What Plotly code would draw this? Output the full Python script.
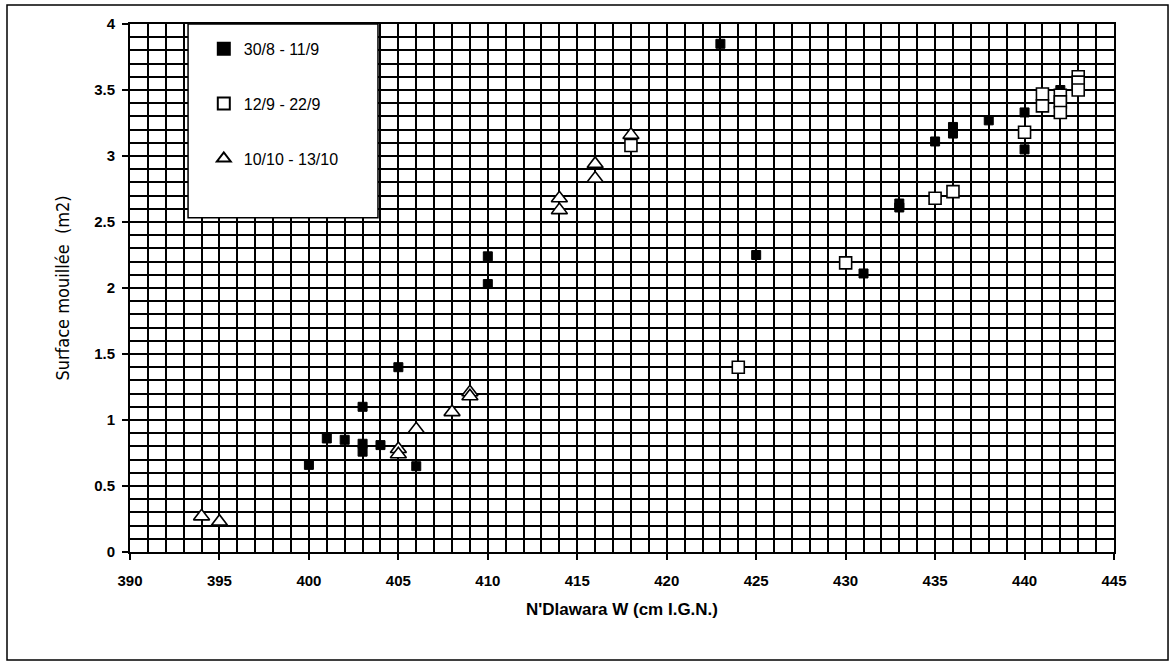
import plotly.graph_objects as go

# 30/8 - 11/9 (filled squares)
s1_x = [400, 401, 402, 403, 403, 403, 404, 405, 406, 410, 410, 423, 425, 431, 433, 433,
        435, 436, 436, 438, 440, 440, 442]
s1_y = [0.66, 0.86, 0.85, 1.10, 0.82, 0.76, 0.81, 1.40, 0.65, 2.24, 2.03, 3.85, 2.25, 2.11, 2.64, 2.61,
        3.11, 3.22, 3.17, 3.27, 3.33, 3.05, 3.50]
# 12/9 - 22/9 (open squares)
s2_x = [418, 424, 430, 435, 436, 440, 441, 441, 442, 442, 442, 443, 443, 443]
s2_y = [3.08, 1.40, 2.19, 2.68, 2.73, 3.18, 3.47, 3.38, 3.46, 3.41, 3.33, 3.60, 3.56, 3.50]
# 10/10 - 13/10 (open triangles)
s3_x = [394, 395, 405, 405, 406, 408, 409, 409, 414, 414, 416, 416, 418]
s3_y = [0.27, 0.23, 0.78, 0.74, 0.93, 1.06, 1.21, 1.18, 2.68, 2.59, 2.94, 2.83, 3.16]

labels = ["30/8 - 11/9", "12/9 - 22/9", "10/10 - 13/10"]

x_ticks = [390, 395, 400, 405, 410, 415, 420, 425, 430, 435, 440, 445]
x_ticklabels = ["390", "395", "400", "405", "410", "415", "420", "425", "430", "435", "440", "445"]
y_ticks = [0, 0.5, 1, 1.5, 2, 2.5, 3, 3.5, 4]
y_ticklabels = ["0", "0.5", "1", "1.5", "2", "2.5", "3", "3.5", "4"]

fig = go.Figure()
fig.add_trace(go.Scatter(x=s1_x, y=s1_y, mode="markers", name=labels[0], legendgroup="a",
                         marker=dict(symbol="square", size=9, color="black",
                                     line=dict(color="black", width=1))))
fig.add_trace(go.Scatter(x=s2_x, y=s2_y, mode="markers", name=labels[1], legendgroup="b",
                         marker=dict(symbol="square", size=12, color="white",
                                     line=dict(color="black", width=1.6))))
fig.add_trace(go.Scatter(x=s3_x, y=s3_y, mode="markers", name=labels[2], legendgroup="c",
                         marker=dict(symbol="triangle-up", size=14, color="white",
                                     line=dict(color="black", width=1.6))))

tickf = dict(family="Liberation Sans, Arial, sans-serif", size=15, color="black")

fig.update_layout(
    width=1175, height=666,
    margin=dict(l=130, r=61, t=24, b=114),
    paper_bgcolor="white", plot_bgcolor="white",
    showlegend=True,
    legend=dict(x=0.075, y=0.985, xanchor="left", yanchor="top",
                bgcolor="rgba(0,0,0,0)", borderwidth=0,
                font=dict(family="Liberation Sans, Arial, sans-serif", size=16, color="black"),
                tracegroupgap=31, itemsizing="constant"),
    xaxis=dict(range=[390, 445], tickmode="array", tickvals=x_ticks,
               ticktext=["<b>%s</b>" % t for t in x_ticklabels],
               showgrid=True, gridcolor="black", gridwidth=2,
               minor=dict(dtick=1, tick0=390, showgrid=True, gridcolor="black", gridwidth=1.6, ticks=""),
               showline=True, linecolor="black", linewidth=2, mirror=True,
               ticks="outside", ticklen=6, tickwidth=1.5, tickcolor="black",
               ticklabelstandoff=8,
               tickfont=tickf,
               title=dict(text="<b>N'Dlawara W (cm I.G.N.)</b>", standoff=15,
                          font=dict(family="Liberation Sans, Arial, sans-serif", size=17, color="black")),
               zeroline=False),
    yaxis=dict(range=[0, 4], tickmode="array", tickvals=y_ticks,
               ticktext=["<b>%s</b>" % t for t in y_ticklabels],
               showgrid=True, gridcolor="black", gridwidth=2,
               minor=dict(dtick=0.1, tick0=0, showgrid=True, gridcolor="black", gridwidth=1.6, ticks=""),
               showline=True, linecolor="black", linewidth=2, mirror=True,
               ticks="outside", ticklen=6, tickwidth=1.5, tickcolor="black",
               ticklabelstandoff=4,
               tickfont=tickf,
               title=dict(text="Surface mouillée  (m2)", standoff=20,
                          font=dict(family="DejaVu Sans Condensed, Liberation Sans Narrow, sans-serif",
                                    size=18, color="black")),
               zeroline=False),
    shapes=[
        dict(type="rect", xref="paper", yref="paper", x0=0.059, x1=0.252, y0=0.633, y1=1.0,
             fillcolor="white", line=dict(color="black", width=1.5), layer="above"),
        dict(type="rect", xref="paper", yref="paper", x0=-0.125, x1=1.0549, y0=-0.2045, y1=1.036,
             fillcolor="rgba(0,0,0,0)", line=dict(color="black", width=1.5), layer="above"),
    ],
)

fig.write_html("out.html")
